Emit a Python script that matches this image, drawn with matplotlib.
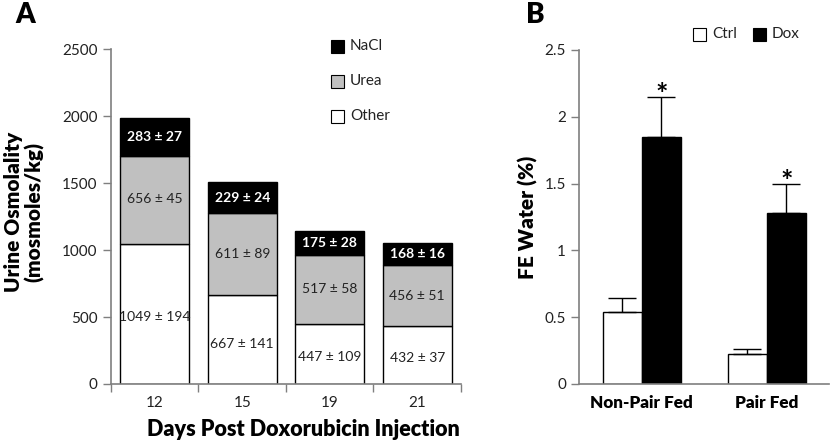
import matplotlib
matplotlib.use('Agg')
import matplotlib.pyplot as plt
from matplotlib.patches import Rectangle

plt.rcParams['font.family'] = ['Lato', 'DejaVu Sans']

# panel A data
days = ['12', '15', '19', '21']
other = [1049, 667, 447, 432]
urea = [656, 611, 517, 456]
nacl = [283, 229, 175, 168]
other_sd = [194, 141, 109, 37]
urea_sd = [45, 89, 58, 51]
nacl_sd = [27, 24, 28, 16]

# panel B data
groups = ['Non-Pair Fed', 'Pair Fed']
ctrl = [0.54, 0.222]
ctrl_err = [0.10, 0.038]
dox = [1.85, 1.278]
dox_err = [0.296, 0.222]

gray = '#7f7f7f'
fig = plt.figure(figsize=(8.3, 4.4), dpi=100)

# ---- panel A ----
ax1 = fig.add_axes([0.1337, 0.1273, 0.4217, 0.7607])
x = range(len(days))
w = 0.79
ax1.bar(x, other, w, color='white', edgecolor='black', linewidth=1)
ax1.bar(x, urea, w, bottom=other, color='#c0c0c0', edgecolor='black', linewidth=1)
bot2 = [o + u for o, u in zip(other, urea)]
ax1.bar(x, nacl, w, bottom=bot2, color='black', edgecolor='black', linewidth=1)

# value labels, positions
other_lab_y = [500, 300, 200, 195]
urea_lab_y = [1380, 970, 710, 655]
for i in x:
    ax1.text(i, other_lab_y[i], '%d ± %d' % (other[i], other_sd[i]), ha='center', va='center',
             fontsize=10, color='#222222')
    ax1.text(i, urea_lab_y[i], '%d ± %d' % (urea[i], urea_sd[i]), ha='center', va='center',
             fontsize=10, color='#222222')
    ax1.text(i, bot2[i] + nacl[i] / 2.0, '%d ± %d' % (nacl[i], nacl_sd[i]), ha='center', va='center',
             fontsize=10, color='white', fontweight='bold')

ax1.set_xlim(-0.5, 3.5)
ax1.set_ylim(0, 2500)
ax1.set_yticks([0, 500, 1000, 1500, 2000, 2500])
ax1.set_xticks([-0.5, 0.5, 1.5, 2.5, 3.5])
ax1.set_xticklabels([])
ax1.set_xticks(list(x), minor=True)
ax1.set_xticklabels(days, minor=True)
ax1.tick_params(axis='x', which='minor', length=0, pad=9, labelsize=11, labelcolor='#222222')
ax1.tick_params(axis='x', which='major', length=6, width=1, color=gray)
ax1.tick_params(axis='y', length=6, width=1, color=gray, labelsize=11, labelcolor='#222222')
for s in ['top', 'right']:
    ax1.spines[s].set_visible(False)
for s in ['left', 'bottom']:
    ax1.spines[s].set_color(gray)
    ax1.spines[s].set_linewidth(1.2)

fig.text(24 / 830, 1 - 212 / 440, 'Urine Osmolality\n(mosmoles/kg)', rotation=90, ha='center',
         va='center', multialignment='center', fontsize=15, fontweight='heavy', linespacing=1.05)
fig.text(303 / 830, 1 - 429 / 440, 'Days Post Doxorubicin Injection', ha='center', va='center',
         fontsize=15.5, fontweight='heavy')

leg = [('NaCl', 'black', 46), ('Urea', '#c0c0c0', 81), ('Other', 'white', 116)]
for lab, c, yy in leg:
    fig.add_artist(Rectangle((331 / 830, 1 - (yy + 7) / 440), 13 / 830, 13 / 440, transform=fig.transFigure,
                             facecolor=c, edgecolor='black', linewidth=0.8))
    fig.text(350 / 830, 1 - yy / 440, lab, ha='left', va='center', fontsize=11, color='#222222')

# ---- panel B ----
ax2 = fig.add_axes([0.698, 0.1273, 0.301, 0.7591])
bw = 0.313
xb = range(len(groups))
xc = [i - bw / 2 for i in xb]
xd = [i + bw / 2 for i in xb]
ax2.bar(xc, ctrl, bw, color='white', edgecolor='black', linewidth=1)
ax2.bar(xd, dox, bw, color='black', edgecolor='black', linewidth=1)
ax2.errorbar(xc, ctrl, yerr=[[0, 0], ctrl_err], fmt='none', ecolor='black', elinewidth=1,
             capsize=10, capthick=1)
ax2.errorbar(xd, dox, yerr=[[0, 0], dox_err], fmt='none', ecolor='black', elinewidth=1,
             capsize=10, capthick=1)
for i in xb:
    ax2.text(xd[i], dox[i] + dox_err[i] + 0.015, '*', ha='center', va='center', fontsize=21,
             fontweight='bold')

ax2.set_xlim(-0.5, 1.5)
ax2.set_ylim(0, 2.5)
ax2.set_yticks([0, 0.5, 1, 1.5, 2, 2.5])
ax2.set_yticklabels(['0', '0.5', '1', '1.5', '2', '2.5'])
ax2.set_xticks(list(xb))
ax2.set_xticklabels(groups, fontweight='heavy')
ax2.tick_params(axis='x', length=0, pad=8, labelsize=12.3)
ax2.tick_params(axis='y', length=6, width=1, color=gray, labelsize=11, labelcolor='#222222')
for s in ['top', 'right']:
    ax2.spines[s].set_visible(False)
for s in ['left', 'bottom']:
    ax2.spines[s].set_color(gray)
    ax2.spines[s].set_linewidth(1.2)
ax2.set_ylabel('FE Water (%)', fontsize=15, fontweight='heavy', labelpad=5)

for lab, c, xx in [('Ctrl', 'white', 693), ('Dox', 'black', 753)]:
    fig.add_artist(Rectangle((xx / 830, 1 - 41 / 440), 13 / 830, 13 / 440, transform=fig.transFigure,
                             facecolor=c, edgecolor='black', linewidth=0.8))
    fig.text((xx + 19) / 830, 1 - 34.5 / 440, lab, ha='left', va='center', fontsize=11, color='#222222')

fig.text(25 / 830, 1 - 15 / 440, 'A', ha='center', va='center', fontsize=20, fontweight='heavy')
fig.text(535 / 830, 1 - 15 / 440, 'B', ha='center', va='center', fontsize=20, fontweight='heavy')

fig.savefig('out.png', dpi=100)
